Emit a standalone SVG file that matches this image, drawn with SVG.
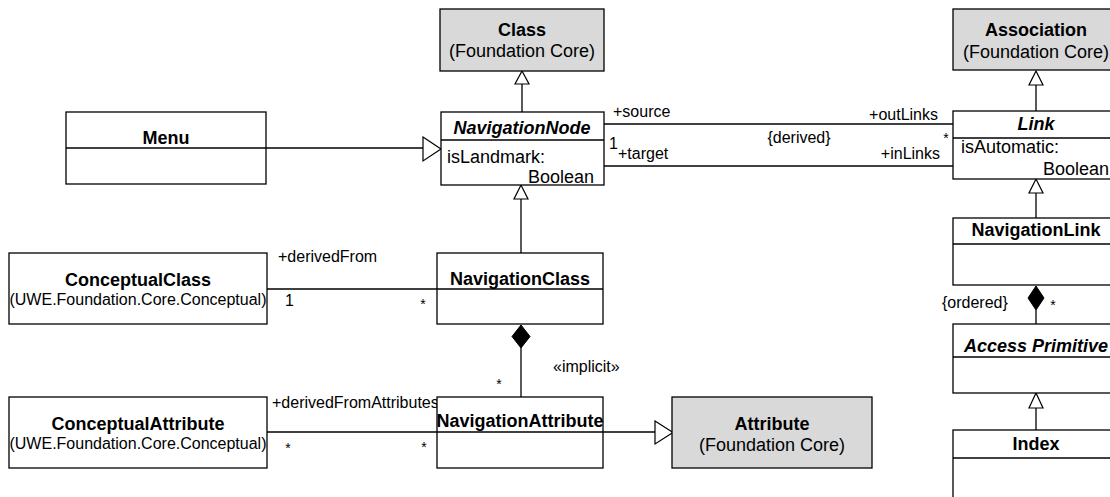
<svg xmlns="http://www.w3.org/2000/svg" width="1110" height="497" viewBox="0 0 1110 497">
<style>
  .box { fill: #ffffff; stroke: #000; stroke-width: 1.3; }
  .core { fill: #d9d9d9; stroke: #000; stroke-width: 1.3; }
  .sep { stroke: #000; stroke-width: 1.3; fill: none; }
  .ln { stroke: #000; stroke-width: 1.3; fill: none; }
  .tri { fill: #ffffff; stroke: #000; stroke-width: 1.2; }
  .dia { fill: #000; stroke: #000; stroke-width: 1; }
  text { font-family: "Liberation Sans", Arial, sans-serif; fill: #000; }
  .title { font-size: 18px; font-weight: bold; text-anchor: middle; }
  .abs { font-size: 18px; font-weight: bold; font-style: italic; text-anchor: middle; }
  .sub { font-size: 18px; text-anchor: middle; }
  .pkg { font-size: 16px; text-anchor: middle; }
  .attr { font-size: 18px; }
  .lbl { font-size: 16px; }
  .star { font-size: 14px; }
</style>
<rect width="1110" height="497" fill="#ffffff"/>

<g id="connectors">
  <!-- Menu -> NavigationNode generalization -->
  <line class="ln" x1="266" y1="148" x2="423" y2="148"/>
  <polygon class="tri" points="423,137 441,149 423,161"/>
  <!-- NavigationNode -> Class -->
  <line class="ln" x1="522" y1="84" x2="522" y2="112"/>
  <polygon class="tri" points="522,71 515,84 529,84"/>
  <!-- NavigationClass -> NavigationNode -->
  <line class="ln" x1="521" y1="199" x2="521" y2="253"/>
  <polygon class="tri" points="521,185 514,199 528,199"/>
  <!-- Link -> Association -->
  <line class="ln" x1="1036" y1="85" x2="1036" y2="111"/>
  <polygon class="tri" points="1036,71 1029,85 1043,85"/>
  <!-- NavigationLink -> Link -->
  <line class="ln" x1="1036" y1="193" x2="1036" y2="218"/>
  <polygon class="tri" points="1036,179 1029,193 1043,193"/>
  <!-- Index -> Access Primitive -->
  <line class="ln" x1="1036" y1="408" x2="1036" y2="430"/>
  <polygon class="tri" points="1036,393 1029,408 1043,408"/>
  <!-- NavigationAttribute -> Attribute -->
  <line class="ln" x1="603" y1="432" x2="655" y2="432"/>
  <polygon class="tri" points="655,421 673,432.5 655,444"/>
  <!-- NavigationNode - Link associations -->
  <line class="ln" x1="604" y1="124" x2="953" y2="124"/>
  <line class="ln" x1="604" y1="166" x2="953" y2="166"/>
  <text class="lbl" x="613" y="117">+source</text>
  <text class="lbl" x="938" y="120" text-anchor="end">+outLinks</text>
  <text class="lbl" x="609" y="149">1</text>
  <text class="lbl" x="618" y="159">+target</text>
  <text class="lbl" x="799" y="143" text-anchor="middle">{derived}</text>
  <text class="star" x="946" y="143" text-anchor="middle">*</text>
  <text class="lbl" x="940" y="159" text-anchor="end">+inLinks</text>
  <!-- ConceptualClass - NavigationClass -->
  <line class="ln" x1="267" y1="289" x2="437" y2="289"/>
  <text class="lbl" x="278" y="262">+derivedFrom</text>
  <text class="lbl" x="285" y="306">1</text>
  <text class="star" x="423" y="309" text-anchor="middle">*</text>
  <!-- ConceptualAttribute - NavigationAttribute -->
  <line class="ln" x1="267" y1="432" x2="437" y2="432"/>
  <text class="lbl" x="272" y="408">+derivedFromAttributes</text>
  <text class="star" x="288" y="453" text-anchor="middle">*</text>
  <text class="star" x="424" y="452" text-anchor="middle">*</text>
  <!-- NavigationClass composition NavigationAttribute -->
  <polygon class="dia" points="521,325 530,336.5 521,348 512,336.5"/>
  <line class="ln" x1="521" y1="348" x2="521" y2="397"/>
  <text class="lbl" x="553" y="372">«implicit»</text>
  <text class="star" x="499" y="389" text-anchor="middle">*</text>
  <!-- NavigationLink composition Access Primitive -->
  <polygon class="dia" points="1036,286 1044,298 1036,310 1028,298"/>
  <line class="ln" x1="1036" y1="310" x2="1036" y2="324"/>
  <text class="lbl" x="942" y="308">{ordered}</text>
  <text class="star" x="1053" y="310" text-anchor="middle">*</text>
</g>

<g id="Class">
  <rect class="core" x="440" y="9" width="164" height="62"/>
  <text class="title" x="522" y="36">Class</text>
  <text class="sub" x="522" y="57">(Foundation Core)</text>
</g>

<g id="Association">
  <rect class="core" x="953" y="9" width="166" height="61"/>
  <text class="title" x="1036" y="36">Association</text>
  <text class="sub" x="1036" y="58">(Foundation Core)</text>
</g>

<g id="Menu">
  <rect class="box" x="66" y="112" width="200" height="72"/>
  <line class="sep" x1="66" y1="148" x2="266" y2="148"/>
  <text class="title" x="166" y="144">Menu</text>
</g>

<g id="NavigationNode">
  <rect class="box" x="441" y="112" width="163" height="73"/>
  <line class="sep" x1="441" y1="140" x2="604" y2="140"/>
  <text class="abs" x="522" y="134">NavigationNode</text>
  <text class="attr" x="447" y="163">isLandmark:</text>
  <text class="attr" x="594" y="183" text-anchor="end">Boolean</text>
</g>

<g id="Link">
  <rect class="box" x="953" y="111" width="166" height="68"/>
  <line class="sep" x1="953" y1="138" x2="1119" y2="138"/>
  <text class="abs" x="1036" y="130">Link</text>
  <text class="attr" x="961" y="153">isAutomatic:</text>
  <text class="attr" x="1109" y="175" text-anchor="end">Boolean</text>
</g>

<g id="NavigationLink">
  <rect class="box" x="953" y="218" width="166" height="67"/>
  <line class="sep" x1="953" y1="244" x2="1119" y2="244"/>
  <text class="title" x="1036" y="236">NavigationLink</text>
</g>

<g id="AccessPrimitive">
  <rect class="box" x="953" y="324" width="166" height="69"/>
  <line class="sep" x1="953" y1="357" x2="1119" y2="357"/>
  <text class="abs" x="1036" y="352">Access Primitive</text>
</g>

<g id="Index">
  <rect class="box" x="953" y="430" width="166" height="90"/>
  <line class="sep" x1="953" y1="458" x2="1119" y2="458"/>
  <text class="title" x="1036" y="450">Index</text>
</g>

<g id="ConceptualClass">
  <rect class="box" x="9" y="253" width="258" height="71"/>
  <text class="title" x="138" y="286">ConceptualClass</text>
  <text class="pkg" x="138" y="305">(UWE.Foundation.Core.Conceptual)</text>
</g>

<g id="NavigationClass">
  <rect class="box" x="437" y="253" width="166" height="71"/>
  <line class="sep" x1="437" y1="289" x2="603" y2="289"/>
  <text class="title" x="520" y="285">NavigationClass</text>
</g>

<g id="ConceptualAttribute">
  <rect class="box" x="9" y="397" width="258" height="71"/>
  <text class="title" x="138" y="430">ConceptualAttribute</text>
  <text class="pkg" x="138" y="449">(UWE.Foundation.Core.Conceptual)</text>
</g>

<g id="NavigationAttribute">
  <rect class="box" x="437" y="397" width="166" height="71"/>
  <line class="sep" x1="437" y1="432" x2="603" y2="432"/>
  <text class="title" x="520" y="427">NavigationAttribute</text>
</g>

<g id="Attribute">
  <rect class="core" x="672" y="397" width="200" height="71"/>
  <text class="title" x="772" y="430">Attribute</text>
  <text class="sub" x="772" y="451">(Foundation Core)</text>
</g>
</svg>
